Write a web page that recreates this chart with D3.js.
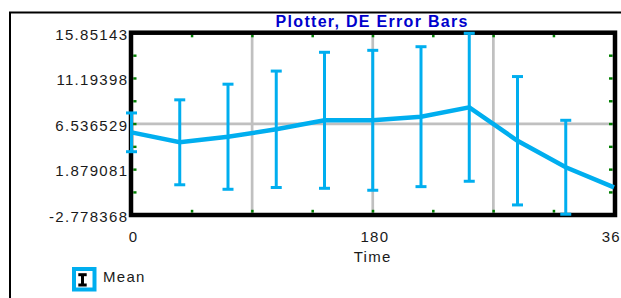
<!DOCTYPE html>
<html><head><meta charset="utf-8">
<script src="https://cdn.jsdelivr.net/npm/d3@7"></script>
<style>html,body{margin:0;padding:0;background:#fff;overflow:hidden}</style>
</head><body>
<svg id="c" width="621" height="298"></svg>
<script>
// ---- data ----
const times  = [0, 36, 72, 108, 144, 180, 216, 252, 288, 324, 360];
const means  = [5.67, 4.65, 5.22, 5.98, 6.90, 6.90, 7.27, 8.23, 4.81, 2.10, 0.05];
const errors = [1.98, 4.34, 5.37, 5.95, 6.95, 7.15, 7.15, 7.56, 6.56, 4.80, null];
const yTickValues = [15.85143, 11.19398, 6.536529, 1.879081, -2.778368];
const yTickLabels = ["15.85143", "11.19398", "6.536529", "1.879081", "-2.778368"];
const xTickValues = [0, 180, 360];
const xTickLabels = ["0", "180", "360"];
const xGridValues = [90, 180, 270];
const yGridValues = [6.536529];
const xMinorValues = [45, 90, 135, 180, 225, 270, 315];
const titleText = "Plotter, DE Error Bars";
const xTitleText = "Time";
const seriesName = "Mean";

// ---- styles ----
const BLUE = "#00AEEF", GREEN = "#007F00", GRID = "#C0C0C0", TXT = "#1a1a1a";
const FONT = "'Liberation Sans', Arial, sans-serif";
const FS = 15, LS = 1.3;

const svg = d3.select("#c");
const x = d3.scaleLinear().domain([0, 360]).range([131.5, 614]);
const y = d3.scaleLinear().domain([-2.778368, 15.85143]).range([215, 32.7]);

// outer frame
svg.append("rect").attr("x", 10).attr("y", 12.5).attr("width", 700).attr("height", 400)
  .attr("fill", "none").attr("stroke", "#000").attr("stroke-width", 2);

// grid
svg.selectAll(".gx").data(xGridValues).join("line")
  .attr("x1", d => x(d)).attr("x2", d => x(d)).attr("y1", y.range()[1]).attr("y2", y.range()[0])
  .attr("stroke", GRID).attr("stroke-width", 2.7);
svg.selectAll(".gy").data(yGridValues).join("line")
  .attr("y1", d => y(d)).attr("y2", d => y(d)).attr("x1", x.range()[0]).attr("x2", x.range()[1])
  .attr("stroke", GRID).attr("stroke-width", 2.7);

// minor green ticks
const [y0, y1] = y.domain();
const yMinor = d3.range(1, 8).map(k => y0 + k * (y1 - y0) / 8);
const tk = svg.append("g").attr("fill", GREEN);
xMinorValues.forEach(v => {
  tk.append("rect").attr("x", x(v) - 1).attr("y", 34.7).attr("width", 2.5).attr("height", 2.6);
  tk.append("rect").attr("x", x(v) - 1).attr("y", 209.8).attr("width", 2.5).attr("height", 2.8);
});
yMinor.forEach(v => {
  tk.append("rect").attr("x", 133.3).attr("y", y(v) - 1).attr("width", 3.2).attr("height", 2.4);
  tk.append("rect").attr("x", 609).attr("y", y(v) - 1).attr("width", 3.6).attr("height", 2.4);
});

// plot frame
svg.append("rect").attr("x", 131).attr("y", 32.7).attr("width", 615 - 131).attr("height", 215 - 32.7)
  .attr("fill", "none").attr("stroke", "#000").attr("stroke-width", 4.5);

// y tick labels
svg.selectAll(".yl").data(yTickValues).join("text")
  .attr("x", 127 + LS).attr("y", d => y(d) + 7)
  .attr("text-anchor", "end").attr("font-family", FONT).attr("font-size", FS)
  .attr("letter-spacing", LS).attr("fill", TXT)
  .text((d, i) => yTickLabels[i]);

// x tick labels
svg.selectAll(".xl").data(xTickValues).join("text")
  .attr("x", d => x(d) + 1.5 + LS / 2).attr("y", 242.3)
  .attr("text-anchor", "middle").attr("font-family", FONT).attr("font-size", FS)
  .attr("letter-spacing", LS).attr("fill", TXT)
  .text((d, i) => xTickLabels[i]);

// x title
svg.append("text").attr("x", 372 + LS / 2).attr("y", 261.8)
  .attr("text-anchor", "middle").attr("font-family", FONT).attr("font-size", FS)
  .attr("letter-spacing", LS).attr("fill", TXT).text(xTitleText);

// title
svg.append("text").attr("x", 371.5 + 0.65).attr("y", 26.5)
  .attr("text-anchor", "middle").attr("font-family", FONT).attr("font-size", 16)
  .attr("font-weight", "bold").attr("letter-spacing", 1.3).attr("fill", "#0000CC").text(titleText);

// data
const pts = times.map((t, i) => ({ t, m: means[i], e: errors[i] }));
const eb = svg.append("g").attr("stroke", BLUE).attr("stroke-width", 3).attr("fill", "none");
pts.filter(d => d.e != null).forEach(d => {
  const cx = x(d.t), top = y(d.m + d.e), bot = y(d.m - d.e);
  eb.append("line").attr("x1", cx).attr("x2", cx).attr("y1", top).attr("y2", bot);
  eb.append("line").attr("x1", cx - 5.5).attr("x2", cx + 5.5).attr("y1", top).attr("y2", top);
  eb.append("line").attr("x1", cx - 5.5).attr("x2", cx + 5.5).attr("y1", bot).attr("y2", bot);
});
svg.append("path").datum(pts)
  .attr("d", d3.line().x(d => x(d.t)).y(d => y(d.m)))
  .attr("fill", "none").attr("stroke", BLUE).attr("stroke-width", 4.5).attr("stroke-linejoin", "miter");

// legend
const lg = svg.append("g");
lg.append("rect").attr("x", 74).attr("y", 269).attr("width", 20.5).attr("height", 20.5)
  .attr("fill", "#fff").attr("stroke", BLUE).attr("stroke-width", 4);
const li = lg.append("g").attr("stroke", "#000").attr("stroke-width", 3);
li.append("line").attr("x1", 82.5).attr("x2", 82.5).attr("y1", 274.5).attr("y2", 285);
li.append("line").attr("x1", 78.3).attr("x2", 86.7).attr("y1", 274.7).attr("y2", 274.7);
li.append("line").attr("x1", 78.3).attr("x2", 86.7).attr("y1", 285).attr("y2", 285);
lg.append("text").attr("x", 103).attr("y", 281.7).attr("font-family", FONT).attr("font-size", FS)
  .attr("letter-spacing", LS).attr("fill", TXT).text(seriesName);
</script>
</body></html>
